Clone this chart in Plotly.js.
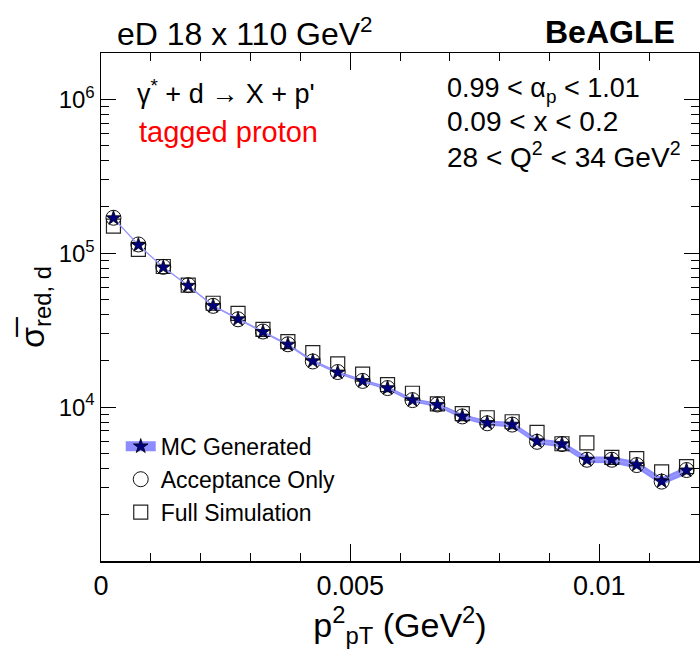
<!DOCTYPE html>
<html>
<head>
<meta charset="utf-8">
<script src="https://cdn.plot.ly/plotly-3.0.1.min.js"></script>
<style>html,body{margin:0;padding:0;background:#fff;}#plot{width:700px;height:654px;}</style>
</head>
<body>
<div id="plot"></div>
<script>
// ---- data ----
const pt2 = [0.00025, 0.00075, 0.00125, 0.00175, 0.00225, 0.00275, 0.00325, 0.00375,
             0.00425, 0.00475, 0.00525, 0.00575, 0.00625, 0.00675, 0.00725, 0.00775,
             0.00825, 0.00875, 0.00925, 0.00975, 0.01025, 0.01075, 0.01125, 0.01175];
const mcGenerated = [1.69e5, 1.13e5, 8.1e4, 6.15e4, 4.55e4, 3.73e4, 3.08e4, 2.55e4,
                     1.99e4, 1.68e4, 1.48e4, 1.33e4, 1.11e4, 1.035e4, 8.7e3, 7.9e3,
                     7.7e3, 6.0e3, 5.75e3, 4.55e3, 4.55e3, 4.22e3, 3.3e3, 3.88e3];
const mcRelErr = [0.004, 0.005, 0.007, 0.009, 0.011, 0.013, 0.015, 0.017,
                  0.02, 0.022, 0.025, 0.027, 0.03, 0.032, 0.035, 0.037,
                  0.04, 0.043, 0.045, 0.048, 0.05, 0.053, 0.056, 0.058];
const acceptanceOnly = [1.70e5, 1.14e5, 8.15e4, 6.2e4, 4.55e4, 3.72e4, 3.1e4, 2.56e4,
                        1.98e4, 1.69e4, 1.48e4, 1.33e4, 1.11e4, 1.04e4, 8.7e3, 7.85e3,
                        7.7e3, 5.95e3, 5.75e3, 4.55e3, 4.55e3, 4.2e3, 3.28e3, 3.9e3];
const fullSimulation = [1.50e5, 1.06e5, 8.2e4, 6.2e4, 4.73e4, 4.07e4, 3.2e4, 2.66e4,
                        2.26e4, 1.91e4, 1.64e4, 1.40e4, 1.23e4, 1.05e4, 9.06e3, 8.53e3,
                        8.03e3, 6.85e3, 5.78e3, 5.86e3, 4.71e3, 4.62e3, 3.79e3, 4.11e3];
const xTickVals = [0, 0.005, 0.01];
const xTickText = ['0', '0.005', '0.01'];
const yTickVals = [1e4, 1e5, 1e6];
const yTickText = ['10<sup>4</sup>', '10<sup>5</sup>', '10<sup>6</sup>'];

const bandLow = mcGenerated.map((v, i) => v * (1 - mcRelErr[i]));
const bandHigh = mcGenerated.map((v, i) => v * (1 + mcRelErr[i]));

const yMinor = [];
[1e3, 1e4, 1e5, 1e6].forEach(d => { for (let k = 2; k <= 9; k++) yMinor.push(k * d); });

const FONT = 'Liberation Sans, Arial, Helvetica, sans-serif';
const BAND = '#8c8cff';

const traces = [
  {x: pt2, y: bandLow, mode: 'lines', line: {width: 0, color: BAND}, showlegend: false, hoverinfo: 'skip'},
  {x: pt2, y: bandHigh, mode: 'lines', line: {width: 0, color: BAND}, fill: 'tonexty', fillcolor: BAND, showlegend: false, hoverinfo: 'skip'},
  {x: pt2, y: fullSimulation, mode: 'markers', name: 'Full Simulation', legendrank: 3,
   marker: {symbol: 'square-open', size: 14, color: '#222', line: {width: 1.2}}},
  {x: pt2, y: acceptanceOnly, mode: 'markers', name: 'Acceptance Only', legendrank: 2,
   marker: {symbol: 'circle-open', size: 15, color: '#111', line: {width: 1}}},
  {x: pt2, y: mcGenerated, mode: 'lines+markers', showlegend: false,
   line: {width: 1.3, color: '#9a9aff'},
   marker: {symbol: 'star', size: 11, color: '#000080', line: {width: 0.8, color: '#000'}}},
  {x: [null], y: [null], mode: 'lines+markers', name: 'MC Generated', legendrank: 1,
   line: {width: 20, color: BAND},
   marker: {symbol: 'star', size: 11, color: '#000080', line: {width: 0.8, color: '#000'}}}
];

const ann = (text, x, y, opts) => Object.assign({text, x, y, xref: 'paper', yref: 'paper',
  xanchor: 'left', yanchor: 'middle', showarrow: false, font: {family: FONT, size: 28, color: '#000'}}, opts || {});

const layout = {
  width: 700, height: 654,
  margin: {l: 101, r: 1, t: 53, b: 93},
  paper_bgcolor: '#fff', plot_bgcolor: '#fff',
  font: {family: FONT, color: '#000'},
  showlegend: true,
  legend: {x: 0.033, y: 0.268, xanchor: 'left', yanchor: 'top', bgcolor: 'rgba(0,0,0,0)',
           font: {family: FONT, size: 23, color: '#000'}, traceorder: 'normal'},
  xaxis: {
    range: [0, 0.012], tickmode: 'array', tickvals: xTickVals, ticktext: xTickText,
    ticks: 'inside', ticklen: 17, tickwidth: 1, tickcolor: '#000',
    minor: {dtick: 0.001, tick0: 0, ticks: 'inside', ticklen: 8, tickwidth: 1, tickcolor: '#000', showgrid: false},
    showline: true, linecolor: '#000', linewidth: 1.5, mirror: 'ticks', showgrid: false, zeroline: false,
    tickfont: {family: FONT, size: 27},
    title: {text: 'p<sup>2</sup><sub>pT</sub> (GeV<sup>2</sup>)', font: {family: FONT, size: 34}, standoff: 8}
  },
  yaxis: {
    type: 'log', range: [3, Math.log10(2e6)], tickmode: 'array', tickvals: yTickVals, ticktext: yTickText,
    ticks: 'inside', ticklen: 15, tickwidth: 1, tickcolor: '#000',
    minor: {tickmode: 'array', tickvals: yMinor, ticks: 'inside', ticklen: 8, tickwidth: 1, tickcolor: '#000', showgrid: false},
    showline: true, linecolor: '#000', linewidth: 1.5, mirror: 'ticks', showgrid: false, zeroline: false,
    tickfont: {family: FONT, size: 24},
    title: {text: 'σ\u0305<sub>red, d</sub>', font: {family: FONT, size: 34}, standoff: 4}
  },
  annotations: [
    ann('eD 18 x 110 GeV<sup>2</sup>', 0.0234, 1.041, {font: {family: FONT, size: 32, color: '#000'}}),
    ann('<b>BeAGLE</b>', 0.963, 1.041, {xanchor: 'right', font: {family: FONT, size: 32, color: '#000'}}),
    ann('γ<sup>*</sup> + d → X + p\'', 0.057, 0.923, {font: {family: FONT, size: 27, color: '#000'}}),
    ann('tagged proton', 0.060, 0.844, {font: {family: FONT, size: 29, color: '#ff0000'}}),
    ann('0.99 &lt; α<sub>p</sub> &lt; 1.01', 0.575, 0.927, {font: {family: FONT, size: 27, color: '#000'}}),
    ann('0.09 &lt; x &lt; 0.2', 0.575, 0.865),
    ann('28 &lt; Q<sup>2</sup> &lt; 34 GeV<sup>2</sup>', 0.575, 0.800)
  ]
};

Plotly.newPlot('plot', traces, layout, {displayModeBar: false, staticPlot: true});
</script>
</body>
</html>
